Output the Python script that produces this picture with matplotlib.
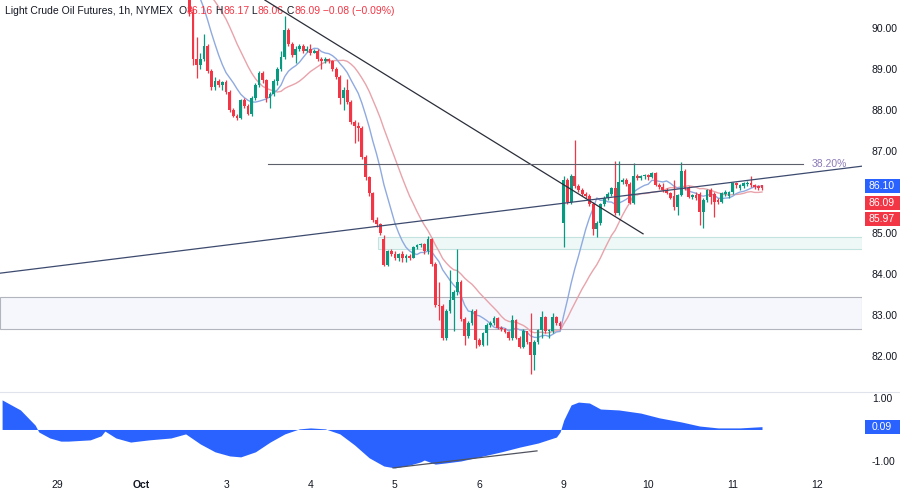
import matplotlib
matplotlib.use("Agg")
import matplotlib.pyplot as plt
from matplotlib.patches import Rectangle
import numpy as np
import pandas as pd

plt.rcParams['font.family'] = ['Liberation Sans', 'DejaVu Sans']

# hourly bars, index 0..207 ; bars 0..50 sit above the visible price range
hidden_closes = [92.6, 92.4, 92.2, 92.3, 92.0, 91.9, 91.8, 91.9, 91.7, 91.6, 91.7, 91.8, 91.6, 91.5, 91.6, 91.7,
                 91.8, 91.9, 92.0, 92.1, 92.2, 92.3, 92.1, 92.0, 91.9, 92.0, 91.8, 91.7, 91.6, 91.5, 91.4, 91.3,
                 91.2, 91.1, 91.0, 90.9, 90.8, 90.9, 91.0,
                 91.3, 91.5, 91.6, 91.8, 91.9, 92.0, 91.9, 91.8, 91.6, 91.5, 91.3, 91.0]

first_bar = 51
opens = [91.0, 90.4, 89.25, 89.1, 89.25, 89.55, 88.95, 88.55, 88.7, 88.62,
         88.68, 88.45, 88.0, 87.85, 87.8, 88.25, 88.1, 87.9, 88.3, 88.6,
         88.9, 88.72, 88.3, 88.4, 88.7, 89.0, 89.3, 89.95, 89.6, 89.35,
         89.5, 89.55, 89.45, 89.5, 89.4, 89.45, 89.25, 89.2, 89.25, 89.2,
         89.0, 88.8, 88.3, 88.5, 88.2, 87.7, 87.6, 87.55, 86.85, 86.37,
         85.98, 85.32, 85.22, 84.85, 84.22, 84.55, 84.5, 84.4, 84.5, 84.38,
         84.45, 84.4, 84.65, 84.7, 84.72, 84.55, 84.85, 84.25, 83.25, 83.22,
         82.45, 83.1, 83.37, 83.56, 83.8, 82.9, 82.5, 82.8, 83.1, 82.4,
         82.28, 82.56, 82.76, 82.8, 82.93, 82.68, 82.65, 82.58, 82.45, 82.88,
         82.45, 82.22, 82.6, 82.35, 82.02, 82.35, 82.63, 82.95, 82.6, 82.62,
         82.95, 82.8, 85.25, 86.3, 85.75, 86.4, 86.15, 86.05, 85.95, 85.9,
         85.7, 85.1, 85.25, 85.7, 85.85, 85.95, 86.1, 85.5, 86.25, 86.3,
         86.2, 85.73, 86.4, 86.35, 86.38, 86.42, 86.37, 86.46, 86.17, 86.12,
         86.05, 85.98, 85.9, 85.63, 85.93, 86.51, 86.1, 85.88, 85.92, 85.95,
         85.51, 85.8, 86.05, 85.95, 85.8, 85.76, 85.95, 85.9, 86.0, 86.22,
         86.1, 86.15, 86.2, 86.23, 86.17, 86.14, 86.16]
highs = [91.1, 90.5, 89.78, 89.4, 89.85, 89.6, 89.0, 88.8, 88.75, 88.7,
         88.72, 88.5, 88.05, 87.9, 88.28, 88.3, 88.15, 88.35, 88.65, 88.95,
         88.95, 88.75, 88.45, 88.75, 89.05, 89.45, 90.3, 90.0, 89.65, 89.55,
         89.6, 89.6, 89.55, 89.6, 89.5, 89.48, 89.3, 89.3, 89.28, 89.22,
         89.05, 88.85, 88.55, 88.75, 88.25, 87.75, 87.7, 87.6, 86.9, 86.4,
         86.0, 85.4, 85.25, 84.95, 84.58, 84.6, 84.55, 84.52, 84.55, 84.48,
         84.5, 84.68, 84.72, 84.75, 84.75, 84.92, 84.88, 84.3, 83.8, 83.28,
         83.15, 84.1, 83.6, 84.6, 83.85, 82.95, 82.85, 83.15, 83.15, 82.45,
         82.58, 82.8, 82.85, 82.98, 82.95, 82.72, 82.68, 82.6, 83.0, 82.9,
         82.5, 82.65, 82.62, 83.05, 82.38, 82.66, 83.1, 82.98, 82.65, 83.05,
         82.98, 82.85, 86.4, 86.35, 86.45, 87.27, 86.2, 86.1, 86.0, 85.95,
         85.75, 85.3, 85.72, 85.9, 86.0, 86.12, 86.75, 86.75, 86.35, 86.35,
         86.25, 86.7, 86.45, 86.42, 86.45, 86.45, 86.48, 86.5, 86.22, 86.22,
         86.1, 86.0, 86.3, 85.95, 86.73, 86.55, 86.15, 85.95, 86.0, 86.0,
         85.85, 86.08, 86.1, 86.0, 85.85, 86.0, 86.05, 86.02, 86.25, 86.25,
         86.2, 86.25, 86.26, 86.4, 86.2, 86.18, 86.17]
lows = [90.3, 89.1, 88.78, 89.0, 89.2, 88.9, 88.5, 88.5, 88.55, 88.5,
        88.4, 87.95, 87.82, 87.75, 87.78, 88.05, 87.88, 87.85, 88.25, 88.55,
        88.65, 88.2, 88.05, 88.35, 88.6, 88.95, 89.25, 89.55, 89.3, 89.15,
        89.45, 89.4, 89.42, 89.35, 89.38, 89.2, 89.0, 89.15, 89.15, 88.95,
        88.75, 88.15, 88.0, 88.15, 87.65, 87.2, 87.25, 86.8, 86.3, 85.9,
        85.28, 85.15, 84.95, 84.2, 84.2, 84.45, 84.35, 84.32, 84.3, 84.3,
        84.35, 84.38, 84.6, 84.65, 84.5, 84.5, 84.2, 83.2, 82.88, 82.4,
        82.4, 83.05, 82.6, 83.5, 82.85, 82.27, 82.45, 82.75, 82.2, 82.25,
        82.25, 82.27, 82.7, 82.75, 82.65, 82.6, 82.55, 82.4, 82.38, 82.42,
        82.2, 82.2, 82.3, 81.55, 81.65, 82.3, 82.45, 82.55, 82.45, 82.55,
        82.75, 82.65, 84.65, 85.7, 85.7, 86.1, 86.0, 85.9, 85.85, 85.65,
        84.95, 84.9, 85.2, 85.65, 85.8, 85.9, 85.45, 85.45, 86.2, 86.15,
        85.7, 85.7, 86.3, 86.3, 86.32, 86.3, 86.33, 86.15, 86.08, 86.0,
        85.95, 85.82, 85.55, 85.45, 85.9, 86.05, 85.85, 85.82, 85.8, 85.2,
        85.12, 85.75, 85.7, 85.4, 85.7, 85.72, 85.9, 85.85, 85.95, 86.1,
        86.05, 86.1, 86.15, 86.12, 86.08, 86.05, 86.06]
closes = [90.4, 89.25, 89.1, 89.25, 89.55, 88.95, 88.55, 88.7, 88.62, 88.68,
          88.45, 88.0, 87.85, 87.8, 88.25, 88.1, 87.9, 88.3, 88.6, 88.9,
          88.72, 88.3, 88.4, 88.7, 89.0, 89.3, 89.95, 89.6, 89.35, 89.5,
          89.55, 89.45, 89.5, 89.4, 89.45, 89.25, 89.2, 89.25, 89.2, 89.0,
          88.8, 88.3, 88.5, 88.2, 87.7, 87.6, 87.55, 86.85, 86.37, 85.98,
          85.32, 85.22, 85.0, 84.22, 84.55, 84.5, 84.4, 84.5, 84.38, 84.45,
          84.4, 84.65, 84.7, 84.72, 84.55, 84.85, 84.25, 83.25, 83.22, 82.45,
          83.1, 83.37, 83.56, 83.8, 82.9, 82.5, 82.8, 83.1, 82.4, 82.28,
          82.56, 82.76, 82.8, 82.93, 82.68, 82.65, 82.58, 82.45, 82.88, 82.45,
          82.22, 82.6, 82.35, 82.02, 82.35, 82.63, 82.95, 82.6, 82.62, 82.95,
          82.8, 82.72, 86.3, 85.75, 86.4, 86.15, 86.05, 85.95, 85.9, 85.7,
          85.1, 85.25, 85.7, 85.85, 85.95, 86.1, 85.5, 86.25, 86.3, 86.2,
          85.73, 86.4, 86.35, 86.38, 86.42, 86.37, 86.46, 86.17, 86.12, 86.05,
          85.98, 85.85, 85.63, 85.93, 86.51, 86.1, 85.88, 85.92, 85.85, 85.51,
          85.8, 86.05, 85.88, 85.76, 85.76, 85.98, 86.0, 86.0, 86.22, 86.17,
          86.17, 86.22, 86.23, 86.17, 86.12, 86.1, 86.09]

# oscillator (lower pane), read at sample bars
osc_x = [0, 5, 9, 10, 13, 16, 18, 24, 27, 28, 31, 35, 40, 46, 50, 54, 58, 62, 65, 69, 73, 77, 81, 84,
         88, 92, 96, 100, 104, 107, 111, 114, 115, 118, 121, 125, 130, 136, 141, 146, 151, 152, 153,
         155, 157, 160, 163, 168, 174, 179, 185, 190, 195, 201, 207]
osc_val = [0.94, 0.62, 0.14, -0.08, -0.27, -0.37, -0.37, -0.33, -0.2, -0.05, -0.27, -0.4, -0.33,
           -0.27, -0.14, -0.46, -0.71, -0.84, -0.87, -0.71, -0.4, -0.14, 0.02, 0.05, 0.02, -0.14,
           -0.49, -0.9, -1.16, -1.22, -1.13, -1.03, -0.97, -1.1, -1.06, -1.0, -0.87, -0.71, -0.56,
           -0.43, -0.24, -0.08, 0.3, 0.78, 0.87, 0.84, 0.65, 0.62, 0.52, 0.37, 0.24, 0.11, 0.05,
           0.05, 0.09]

day_ticks = [15, 38, 61, 84, 107, 130, 153, 176, 199, 222]
day_labels = ['29', 'Oct', '3', '4', '5', '6', '9', '10', '11', '12']
price_ticks = [82, 83, 84, 85, 87, 88, 89, 90]

fib_level = 86.68
fib_span = (72.4, 218.2)
down_line = ([71.6, 174.6], [90.68, 84.98])
up_line = ([-0.57, 234.24], [84.02, 86.63])
zone_a = (102.4, 84.61, 84.90)
zone_b = (-0.57, 82.66, 83.44)
osc_div = ([106.5, 145.7], [-1.22, -0.68])

GREEN = '#089981'
RED = '#F23645'
BLUE = '#2962FF'
TXT = '#131722'

W, H = 900, 495
fig = plt.figure(figsize=(9, 4.95), dpi=100)
ax = fig.add_axes([0, 1 - 392 / H, 862 / W, 392 / H])
ax2 = fig.add_axes([0, 23 / H, 862 / W, 80 / H])
xlim = (-0.572, 234.24)

# zones
ax.add_patch(Rectangle((zone_b[0], zone_b[1]), xlim[1] - zone_b[0], zone_b[2] - zone_b[1],
                       facecolor='#F5F7FC', edgecolor='#B2B5BE', lw=0.8, zorder=1))
ax.add_patch(Rectangle((zone_a[0], zone_a[1]), xlim[1] - zone_a[0], zone_a[2] - zone_a[1],
                       facecolor='#EEF8F7', edgecolor='#C3E3E0', lw=0.8, zorder=1))

# moving averages
all_closes = pd.Series(hidden_closes + closes)
ma_fast = all_closes.rolling(10).mean()
ma_slow = all_closes.rolling(20).mean()
ax.plot(all_closes.index, ma_slow, color='#E8A3AB', lw=1.0, zorder=2)
ax.plot(all_closes.index, ma_fast, color='#8FAAE0', lw=1.0, zorder=2)

# candles
o = np.array(opens); h = np.array(highs); l = np.array(lows); c = np.array(closes)
idx = np.arange(first_bar, first_bar + len(c))
cols = np.where(c >= o, GREEN, RED)
ax.vlines(idx, l, h, colors=cols, lw=0.9, zorder=3)
ax.bar(idx, np.maximum(np.abs(c - o), 0.03), bottom=np.minimum(o, c), width=0.76,
       color=cols, lw=0, zorder=3)

# drawings
ax.plot(*down_line, color='#2A2E39', lw=0.9, zorder=4)
ax.plot(*up_line, color='#3C4A6E', lw=0.9, zorder=4)
ax.plot(fib_span, [fib_level, fib_level], color='#5D606B', lw=0.8, zorder=4)
ax.text(fib_span[1] + 2.2, fib_level, '38.20%', color='#8C7AB8', fontsize=7.5,
        va='center', ha='left', zorder=5)

ax.set_xlim(*xlim)
ax.set_ylim(81.122, 90.683)
ax.yaxis.tick_right()
ax.set_yticks(price_ticks)
ax.set_yticklabels(['%.2f' % v for v in price_ticks])
ax.tick_params(axis='y', length=0, pad=7, labelsize=7.5, labelcolor=TXT)
ax.set_xticks([])
for s in ax.spines.values():
    s.set_visible(False)

# price boxes on the right scale
def price_box(y_px, text, color):
    y0 = 1 - (y_px + 7) / H
    fig.patches.append(Rectangle((865 / W, y0), 35 / W, 14 / H, transform=fig.transFigure,
                                 facecolor=color, edgecolor='none', figure=fig))
    fig.text(882 / W, 1 - y_px / H, text, color='white', fontsize=7.5, ha='center', va='center')

price_box(186, '86.10', BLUE)
price_box(203, '86.09', RED)
price_box(219, '85.97', RED)
fig.lines.append(plt.Line2D([865 / W, 899 / W], [1 - 211 / H] * 2, transform=fig.transFigure,
                            color='white', lw=0.6, ls=(0, (1, 1))))

# oscillator pane
ax2.fill_between(osc_x, osc_val, 0, color=BLUE, lw=0)
ax2.plot(*osc_div, color='#50535E', lw=0.9)
ax2.set_xlim(*xlim)
ax2.set_ylim(-1.35, 1.19)
ax2.yaxis.tick_right()
ax2.set_yticks([1, -1])
ax2.set_yticklabels(['1.00', '-1.00'])
ax2.tick_params(axis='y', length=0, pad=7, labelsize=7.5, labelcolor=TXT)
ax2.set_xticks(day_ticks)
ax2.set_xticklabels(day_labels)
ax2.tick_params(axis='x', length=0, pad=6, labelsize=7.5, labelcolor=TXT)
for t in ax2.get_xticklabels():
    if t.get_text() == 'Oct':
        t.set_fontweight('bold')
for s in ax2.spines.values():
    s.set_visible(False)
price_box(427, '0.09', BLUE)

fig.lines.append(plt.Line2D([0, 1], [1 - 392 / H] * 2, transform=fig.transFigure,
                            color='#E0E3EB', lw=0.8))

# legend line at the top
pieces = [('Light Crude Oil Futures, 1h, NYMEX  ', TXT), ('O', TXT), ('86.16', RED),
          (' H', TXT), ('86.17', RED), (' L', TXT), ('86.06', RED), (' C', TXT),
          ('86.09', RED), (' \u22120.08 (\u22120.09%)', RED)]
prev = fig.text(5 / W, 1 - 14 / H, pieces[0][0], color=pieces[0][1], fontsize=7.5,
                ha='left', va='baseline')
for txt, col in pieces[1:]:
    prev = ax.annotate(txt, xy=(1, 0), xycoords=prev, va='bottom', ha='left',
                       color=col, fontsize=7.5, annotation_clip=False)

fig.savefig('out.png', dpi=100, facecolor='white')
